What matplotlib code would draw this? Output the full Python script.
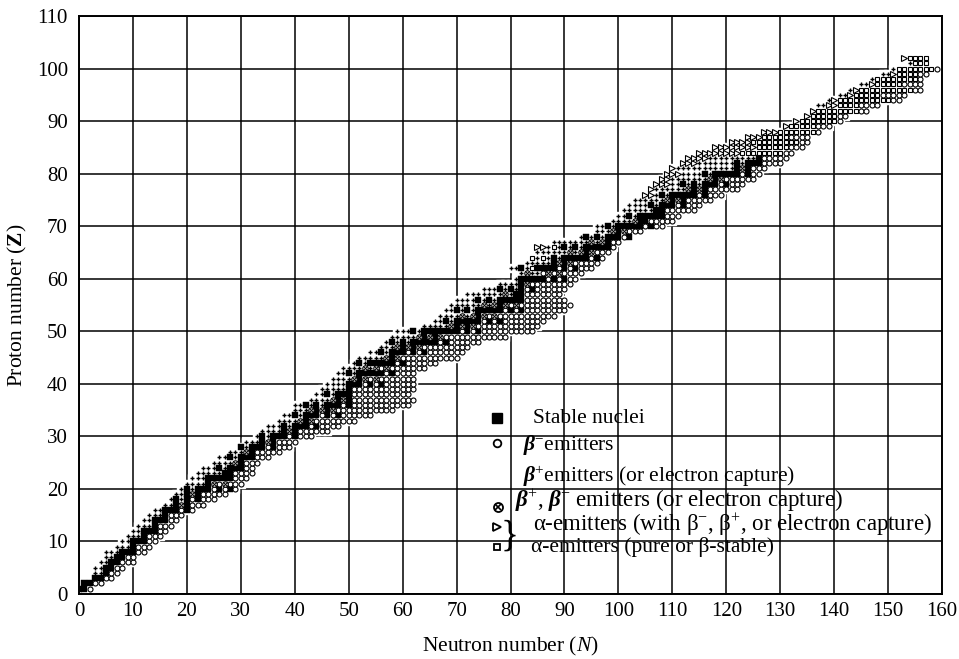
import matplotlib
matplotlib.use("Agg")
import matplotlib.pyplot as plt

plt.rcParams['font.family'] = ['Liberation Serif', 'DejaVu Serif']
plt.rcParams['mathtext.fontset'] = 'custom'
plt.rcParams['mathtext.rm'] = 'Liberation Serif'
plt.rcParams['mathtext.it'] = 'Liberation Serif:italic'
plt.rcParams['mathtext.bf'] = 'Liberation Serif:bold:italic'
plt.rcParams['mathtext.sf'] = 'Liberation Serif:bold'

# ---------------- data ----------------
Z_values = list(range(1, 103))

N_first = [0, 1, 3, 3, 3, 4, 5, 5, 7, 8,
           9, 10, 11, 12, 13, 14, 16, 17, 18, 19,
           20, 21, 22, 23, 25, 26, 28, 30, 31, 33,
           34, 35, 37, 38, 40, 40, 43, 44, 45, 46,
           47, 48, 49, 51, 52, 54, 56, 57, 58, 59,
           64, 66, 67, 68, 69, 70, 72, 75, 78, 81,
           82, 80, 83, 84, 85, 85, 88, 93, 96, 96,
           99, 100, 101, 102, 103, 105, 106, 107, 108, 109,
           110, 112, 113, 115, 118, 121, 124, 127, 131, 133,
           135, 136, 137, 139, 141, 143, 145, 147, 149, 151,
           154, 153]

N_last = [2, 4, 6, 7, 8, 10, 10, 12, 13, 14,
          15, 16, 17, 18, 19, 21, 23, 25, 27, 29,
          30, 31, 32, 32, 33, 35, 37, 39, 40, 43,
          46, 48, 51, 54, 58, 61, 62, 61, 62, 62,
          62, 62, 64, 66, 70, 71, 72, 74, 79, 84,
          85, 86, 88, 90, 91, 90, 89, 90, 91, 92,
          93, 95, 96, 97, 98, 99, 100, 102, 104, 108,
          110, 111, 114, 115, 117, 119, 122, 123, 125, 126,
          127, 130, 131, 132, 134, 135, 135, 137, 139, 141,
          142, 146, 148, 152, 153, 156, 156, 156, 157, 159,
          157, 157]

stable_N = [
    [0, 1], [1, 2], [3, 4], [5], [5, 6], [6, 7], [7, 8], [8, 9, 10], [10], [10, 11, 12],
    [12], [12, 13, 14], [14], [14, 15, 16], [16], [16, 17, 18, 20], [18, 20], [18, 20, 22],
    [20, 22], [20, 22, 23, 24, 26, 28],
    [24], [24, 25, 26, 27, 28], [27, 28], [26, 28, 29, 30], [30], [28, 30, 31, 32], [32],
    [30, 32, 33, 34, 36], [34, 36], [34, 36, 37, 38, 40],
    [38, 40], [38, 40, 41, 42, 44], [42], [40, 42, 43, 44, 46, 48], [44, 46],
    [42, 44, 46, 47, 48, 50], [48, 50], [46, 48, 49, 50], [50], [50, 51, 52, 54, 56],
    [52], [50, 52, 53, 54, 55, 56, 58], [], [52, 54, 55, 56, 57, 58, 60], [58],
    [56, 58, 59, 60, 62, 64], [60, 62], [58, 60, 62, 63, 64, 65, 66, 68], [64, 66],
    [62, 64, 65, 66, 67, 68, 69, 70, 72, 74],
    [70, 72], [68, 70, 71, 72, 73, 74, 76, 78], [74], [70, 72, 74, 75, 76, 77, 78, 80, 82],
    [78], [74, 76, 78, 79, 80, 81, 82], [81, 82], [78, 80, 82, 84], [82],
    [82, 83, 84, 85, 86, 88, 90],
    [], [82, 85, 86, 87, 88, 90, 92], [88, 90], [88, 90, 91, 92, 93, 94, 96], [94],
    [90, 92, 94, 95, 96, 97, 98], [98], [94, 96, 98, 99, 100, 102], [100],
    [98, 100, 101, 102, 103, 104, 106],
    [104, 105], [102, 104, 105, 106, 107, 108], [107, 108], [106, 108, 109, 110, 112],
    [110, 112], [108, 110, 111, 112, 113, 114, 116], [114, 116],
    [112, 114, 116, 117, 118, 120], [118], [116, 118, 119, 120, 121, 122, 124],
    [122, 124], [122, 124, 125, 126], [126],
    [], [], [], [], [], [], [], [], [], [], [], [], [], [], [], [], [], [], [], ]

# heavy elements (Z >= 84): EC-only up to ec_last, alpha (+beta) until pure_first,
# alpha pure / beta-stable up to pure_last, beta- beyond
heavy_Z = list(range(84, 103))
heavy_ec_last = [114, 117, 120, 123, 126, 130, 132, 134, 135, 138,
                 139, 142, 143, 146, 147, 150, 151, 154, 152]
heavy_pure_first = [123, 126, 125, 127, 130, 132, 134, 136, 137, 141,
                    141, 144, 145, 148, 148, 152, 152, 155, 154]
heavy_pure_last = [130, 131, 133, 131, 136, 136, 140, 140, 144, 144,
                   150, 148, 154, 152, 155, 155, 158, 157, 157]

# lighter alpha emitters
alpha_branch_Z = [76, 76, 77, 78, 78, 78, 79, 79, 80, 80, 80, 81, 82, 82, 82, 83, 83, 83, 83, 65, 66, 66]
alpha_branch_N = [105, 106, 106, 107, 108, 109, 108, 109, 109, 110, 111, 110, 112, 113, 114,
                  113, 114, 115, 116, 84, 85, 86]
alpha_pure_Z = [62, 64, 64, 66]
alpha_pure_N = [84, 84, 86, 88]

# ---------------- classification ----------------
stable_set = set((z, n) for z, ns in zip(Z_values, stable_N) for n in ns)
stable_by_A = {}
for (z, n) in stable_set:
    stable_by_A.setdefault(z + n, []).append(z)
ref_N = {}
for z, ns in zip(Z_values, stable_N):
    if ns:
        ref_N[z] = sum(ns) / len(ns)
for z in Z_values:
    if z not in ref_N and z - 1 in ref_N and z + 1 in ref_N:
        ref_N[z] = (ref_N[z - 1] + ref_N[z + 1]) / 2
heavy = dict(zip(heavy_Z, zip(heavy_ec_last, heavy_pure_first, heavy_pure_last)))
a_branch = set(zip(alpha_branch_Z, alpha_branch_N))
a_pure = set(zip(alpha_pure_Z, alpha_pure_N))

cats = {k: ([], []) for k in ['stable', 'bminus', 'bplus', 'both', 'atri', 'asq']}
allN, allZ = [], []
for z, n0, n1 in zip(Z_values, N_first, N_last):
    for n in range(n0, n1 + 1):
        if (z, n) in stable_set:
            c = 'stable'
        elif z in heavy:
            ec, pf, pl = heavy[z]
            c = 'bplus' if n <= ec else 'atri' if n < pf else 'asq' if n <= pl else 'bminus'
        elif (z, n) in a_branch:
            c = 'atri'
        elif (z, n) in a_pure:
            c = 'asq'
        else:
            zs = stable_by_A.get(z + n, [])
            lo = any(s < z for s in zs)
            hi = any(s > z for s in zs)
            if lo and hi:
                c = 'both'
            elif lo:
                c = 'bplus'
            elif hi:
                c = 'bminus'
            else:
                c = 'bplus' if n < ref_N.get(z, n) else 'bminus'
        cats[c][0].append(n)
        cats[c][1].append(z)
        allN.append(n)
        allZ.append(z)

# ---------------- figure ----------------
fig = plt.figure(figsize=(9.59, 6.59), dpi=100)
ax = fig.add_axes([79 / 959, 1 - 594 / 659, (942 - 79) / 959, (594 - 16) / 659])
ax.set_xlim(0, 160)
ax.set_ylim(0, 110)
ax.set_xticks(range(0, 161, 10))
ax.set_yticks(range(0, 111, 10))
ax.grid(True, color='black', linewidth=1.1, zorder=1)
ax.set_axisbelow(True)
ax.tick_params(length=0, labelsize=15)
ax.tick_params(axis='x', pad=6)
ax.tick_params(axis='y', pad=8)
for s in ax.spines.values():
    s.set_linewidth(1.4)
    s.set_zorder(6)

# white backing that interrupts the grid under the band
ax.plot(allN, allZ, ls='none', marker='s', ms=6.0, mfc='white', mec='white', zorder=2)

ax.plot(*cats['stable'], ls='none', marker='s', ms=4.2, mfc='black', mec='black', mew=0.3, zorder=4)
ax.plot(*cats['bminus'], ls='none', marker='o', ms=3.6, mfc='white', mec='black', mew=0.8, zorder=4)
ax.plot(*cats['bplus'], ls='none', marker='+', ms=3.1, mec='black', mew=1.0, zorder=4)
ax.plot(*cats['both'], ls='none', marker='o', ms=3.9, mfc='white', mec='black', mew=0.8, zorder=4)
ax.plot(*cats['both'], ls='none', marker='x', ms=2.6, mec='black', mew=0.7, zorder=5)
ax.plot(*cats['atri'], ls='none', marker='>', ms=3.8, mfc='white', mec='black', mew=0.8, zorder=4)
ax.plot(*cats['asq'], ls='none', marker='s', ms=3.5, mfc='white', mec='black', mew=0.8, zorder=4)

ax.set_xlabel('Neutron number ($N$)', fontsize=15.5)
ax.set_ylabel(r'Proton number ($\mathsf{Z}$)', fontsize=15.5)
ax.xaxis.set_label_coords(0.5, -0.090)
ax.xaxis.label.set_va('center')
ax.yaxis.set_label_coords(-0.0715, 0.5)
ax.yaxis.label.set_va('center')

# ---------------- legend ----------------
T = ax.transAxes
mx = 0.484
ax.plot([mx], [0.304], transform=T, marker='s', ms=7, mfc='black', mec='black', ls='none', clip_on=False, zorder=7)
ax.plot([mx], [0.261], transform=T, marker='o', ms=5.5, mfc='white', mec='black', mew=1.3, ls='none', clip_on=False, zorder=7)
ax.plot([mx + 0.002], [0.151], transform=T, marker='o', ms=6.5, mfc='white', mec='black', mew=1.3, ls='none', clip_on=False, zorder=7)
ax.plot([mx + 0.002], [0.151], transform=T, marker='x', ms=4, mec='black', mew=1.2, ls='none', clip_on=False, zorder=8)
ax.plot([mx], [0.1165], transform=T, marker='>', ms=5.5, mfc='white', mec='black', mew=1.3, ls='none', clip_on=False, zorder=7)
ax.plot([mx], [0.0818], transform=T, marker='s', ms=5, mfc='white', mec='black', mew=1.3, ls='none', clip_on=False, zorder=7)

fs = 15.5
kw = dict(transform=T, va='center', ha='left', zorder=7)
ax.text(0.526, 0.304, 'Stable nuclei', fontsize=fs, **kw)
ax.text(0.5145, 0.257, r'$\mathbf{\beta}^{-}$emitters', fontsize=fs, **kw)
ax.text(0.5145, 0.203, r'$\mathbf{\beta}^{+}$emitters (or electron capture)', fontsize=fs, **kw)
ax.text(0.505, 0.161, r'$\mathbf{\beta}^{+}$, $\mathbf{\beta}^{-}$ emitters (or electron capture)',
        fontsize=16.5, **kw)
ax.text(0.5255, 0.120, r'α-emitters (with $\mathrm{\beta}^{-}$, $\mathrm{\beta}^{+}$, or electron capture)',
        fontsize=16.5, **kw)
ax.text(0.5235, 0.0818, 'α-emitters (pure or β-stable)', fontsize=fs, **kw)
ax.text(0.4995, 0.100, '}', transform=T, fontsize=27, va='center', ha='center', zorder=7)

fig.savefig('out.png', dpi=100)
